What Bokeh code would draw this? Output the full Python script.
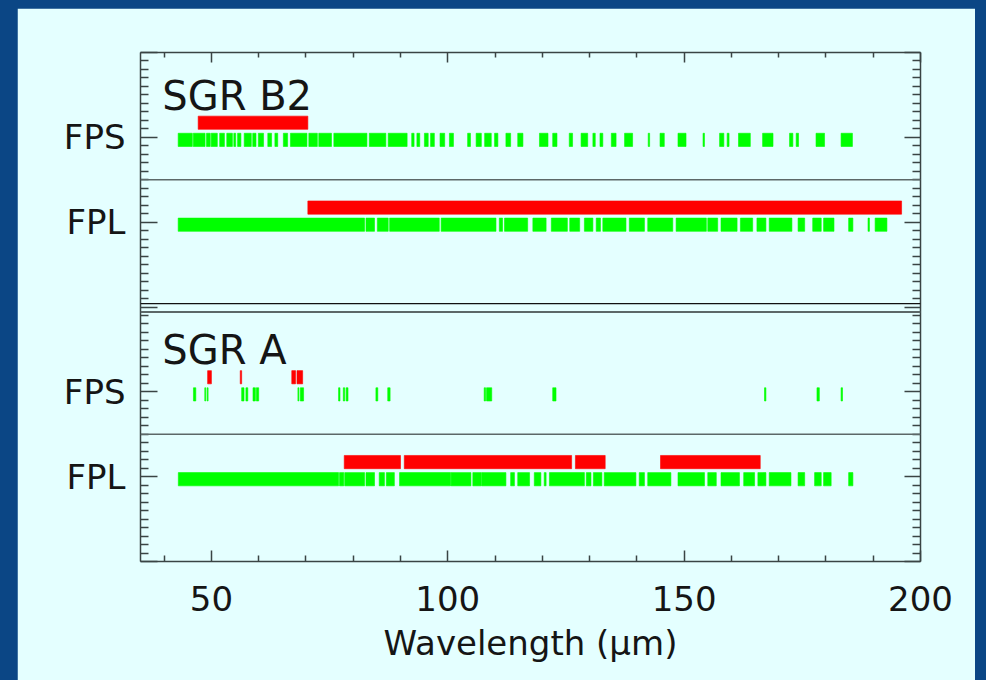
from bokeh.plotting import figure
from bokeh.layouts import column
from bokeh.models import (Range1d, FixedTicker, LinearAxis, Span, Label,
                          ColumnDataSource)
from bokeh.embed import file_html
from bokeh.resources import INLINE

# ---------------------------------------------------------------------------
# Axis definitions
# ---------------------------------------------------------------------------
WAVE_MIN, WAVE_MAX = 35, 200
X_MAJOR = [50, 100, 150, 200]
X_MINOR = [40, 60, 70, 80, 90, 110, 120, 130, 140, 160, 170, 180, 190]
X_TITLE = "Wavelength (\u03bcm)"

# each source panel spans 3 units; the detector rows sit at integer levels
Y_MAJOR = [0, 1, 2, 3, 4, 5, 6]
Y_LABELS = {0: "", 1: "FPL", 2: "FPS", 3: "", 4: "FPL", 5: "FPS", 6: ""}
SOURCE_NAMES = ["SGR B2", "SGR A"]
SOURCE_TOP = {"SGR B2": 6, "SGR A": 3}
ROW_LEVEL = {("SGR B2", "FPS"): 5, ("SGR B2", "FPL"): 4,
             ("SGR A", "FPS"): 2, ("SGR A", "FPL"): 1}

# ---------------------------------------------------------------------------
# Wavelength coverage per detector row, as [start, end] intervals (micron)
# red = upper track, green = lower track
# ---------------------------------------------------------------------------
b2_fps_red = [(47.2, 70.4)]
b2_fps_green = [
    (42.97, 45.96), (46.16, 48.66), (48.96, 49.75), (49.95, 51.25), (51.75, 52.75),
    (53.25, 54.44), (54.74, 55.14), (55.54, 56.24), (56.94, 58.44), (58.74, 59.43),
    (59.93, 61.03), (61.93, 62.73), (63.43, 64.03), (65.22, 66.12), (66.72, 70.21),
    (70.61, 72.41), (72.71, 75.40), (75.9, 82.9), (83.4, 86.9), (87.4, 91.4),
    (92.37, 92.87), (93.47, 94.07), (95.06, 95.86), (96.36, 97.16), (98.36, 99.35),
    (100.35, 101.2), (104.2, 104.8), (106.0, 107.1), (107.8, 109.2), (109.9, 110.6),
    (112.3, 113.3), (114.8, 115.9), (119.4, 121.2), (122.2, 123.1), (125.7, 126.4),
    (128.2, 129.6), (130.7, 131.2), (132.2, 132.8), (134.6, 135.6), (137.4, 139.1),
    (142.4, 142.7), (144.9, 145.8), (148.7, 150.4), (154.0, 154.3), (157.5, 158.4),
    (159.1, 159.5), (161.5, 164.0), (166.6, 168.8), (172.3, 173.0), (173.7, 174.2),
    (177.9, 179.7), (183.2, 185.6),
]

b2_fpl_red = [(70.4, 196.0)]
b2_fpl_green = [
    (42.97, 82.4), (82.7, 84.5), (85.1, 87.4), (87.7, 98.2), (98.6, 110.2),
    (110.9, 111.6), (112.0, 116.9), (118.0, 120.8), (121.9, 125.3), (125.8, 127.9),
    (128.9, 130.7), (131.4, 132.3), (132.8, 137.7), (138.4, 141.6), (142.3, 147.6),
    (148.3, 154.7), (155.0, 157.1), (157.8, 161.2), (161.9, 164.5), (165.4, 167.3),
    (168.0, 172.8), (174.1, 175.5), (177.2, 179.0), (179.5, 181.7), (184.8, 185.7),
    (188.9, 189.2), (190.4, 192.9),
]

a_fps_red = [(49.2, 50.0), (56.1, 56.4), (67.0, 67.8), (68.1, 69.3)]
a_fps_green = [
    (46.2, 46.7), (48.6, 48.8), (49.1, 49.3), (56.4, 56.9), (57.3, 57.7),
    (58.8, 59.3), (59.5, 60.0), (68.3, 68.5), (68.8, 69.5), (76.9, 77.2),
    (77.9, 78.2), (78.5, 78.9), (84.8, 85.2), (87.3, 87.8), (107.7, 108.0),
    (108.2, 109.3), (122.2, 122.9), (167.0, 167.3), (178.1, 178.6), (183.2, 183.5),
]

a_fpl_red = [(78.1, 90.0), (90.8, 126.2), (127.0, 133.3), (145.0, 166.1)]
a_fpl_green = [
    (43.0, 76.9), (77.1, 78.0), (78.2, 82.4), (82.7, 84.5), (85.5, 86.6),
    (87.0, 88.7), (89.8, 100.6), (100.7, 104.9), (105.3, 107.1), (107.2, 112.3),
    (113.3, 114.1), (114.8, 117.3), (118.3, 119.7), (120.4, 120.8), (121.5, 128.9),
    (129.3, 130.3), (130.8, 132.6), (133.1, 139.8), (140.5, 141.6), (142.3, 147.2),
    (148.7, 154.3), (155.0, 156.8), (157.8, 161.7), (162.6, 164.9), (165.6, 167.3),
    (168.0, 172.6), (174.1, 175.5), (177.6, 179.0), (179.5, 181.1), (184.8, 185.7),
]

COVERAGE = {
    ("SGR B2", "FPS"): (b2_fps_red, b2_fps_green),
    ("SGR B2", "FPL"): (b2_fpl_red, b2_fpl_green),
    ("SGR A", "FPS"): (a_fps_red, a_fps_green),
    ("SGR A", "FPL"): (a_fpl_red, a_fpl_green),
}

# ---------------------------------------------------------------------------
# Styling
# ---------------------------------------------------------------------------
PAGE_BLUE = "#0b4685"
PANEL = "#e4ffff"
AXIS = "#3a4444"
SEP = "#5c6868"
RED = "#ff0000"
GREEN = "#00ff00"
FONT = "DejaVu Sans"
TEXT = "#151515"

RED_OFFSETS = (0.094, 0.25)     # band extent relative to the row level
GREEN_OFFSETS = (-0.108, 0.048)

p = figure(width=958, height=672,
           x_range=Range1d(WAVE_MIN, WAVE_MAX), y_range=Range1d(0, 6),
           output_backend="svg", toolbar_location=None,
           min_border_left=123, min_border_right=55,
           min_border_top=44, min_border_bottom=119,
           border_fill_color=PANEL, background_fill_color=PANEL,
           outline_line_color=None, x_axis_label=X_TITLE)
p.grid.visible = False

# coverage bands
for key, (reds, greens) in COVERAGE.items():
    lvl = ROW_LEVEL[key]
    for intervals, offs, color in ((reds, RED_OFFSETS, RED),
                                   (greens, GREEN_OFFSETS, GREEN)):
        src = ColumnDataSource(dict(
            left=[a for a, b in intervals],
            right=[b for a, b in intervals],
            bottom=[lvl + offs[0]] * len(intervals),
            top=[lvl + offs[1]] * len(intervals),
        ))
        p.quad(left="left", right="right", bottom="bottom", top="top",
               source=src, fill_color=color, line_color=color, line_width=0.6)

# row separators and the boundary between the two source panels
for loc in (1.5, 4.5):
    p.add_layout(Span(location=loc, dimension="width",
                      line_color=SEP, line_width=1.5))
p.add_layout(Span(location=3.039, dimension="width", line_color="#111111", line_width=1.2))
p.add_layout(Span(location=2.94, dimension="width", line_color=SEP, line_width=2))

# source names
for name in SOURCE_NAMES:
    p.add_layout(Label(x=39.6, y=SOURCE_TOP[name] - 0.51, text=name,
                       text_font=FONT, text_font_size="40px",
                       text_color=TEXT, text_baseline="alphabetic"))

# ---------------------------------------------------------------------------
# Axes
# ---------------------------------------------------------------------------
x_ticker = FixedTicker(ticks=X_MAJOR, minor_ticks=X_MINOR)
y_ticker = FixedTicker(ticks=Y_MAJOR, minor_ticks=[i / 10 for i in range(61) if i % 10])


def style_axis(ax, major_len, minor_len):
    ax.axis_line_color = AXIS
    ax.axis_line_width = 1.5
    ax.major_tick_line_color = AXIS
    ax.major_tick_line_width = 1.5
    ax.minor_tick_line_color = AXIS
    ax.minor_tick_line_width = 1.5
    ax.major_tick_in = major_len
    ax.major_tick_out = 0
    ax.minor_tick_in = minor_len
    ax.minor_tick_out = 0
    ax.major_label_text_font = FONT
    ax.major_label_text_color = TEXT


xa = p.xaxis[0]
xa.ticker = x_ticker
style_axis(xa, 11, 6)
xa.major_label_text_font_size = "34px"
xa.major_label_standoff = 24
xa.axis_label_text_font = FONT
xa.axis_label_text_font_size = "34px"
xa.axis_label_text_font_style = "normal"
xa.axis_label_text_color = TEXT
xa.axis_label_standoff = 9

ya = p.yaxis[0]
ya.ticker = y_ticker
style_axis(ya, 17, 8)
ya.major_label_overrides = Y_LABELS
ya.major_label_text_font_size = "34px"
ya.major_label_standoff = 15

# mirrored tick marks on the top and right edges, without labels
top_axis = LinearAxis(ticker=x_ticker, major_label_standoff=0,
                      major_label_overrides={t: "" for t in X_MAJOR})
style_axis(top_axis, 10, 5)
p.add_layout(top_axis, "above")

right_axis = LinearAxis(ticker=y_ticker, major_label_standoff=0,
                        major_label_overrides={t: "" for t in Y_MAJOR})
style_axis(right_axis, 16, 8)
p.add_layout(right_axis, "right")

page = column(p, styles={"background-color": PAGE_BLUE,
                         "padding": "8px 11px 0px 17px"})

open("out.html", "w").write(file_html(page, INLINE))
